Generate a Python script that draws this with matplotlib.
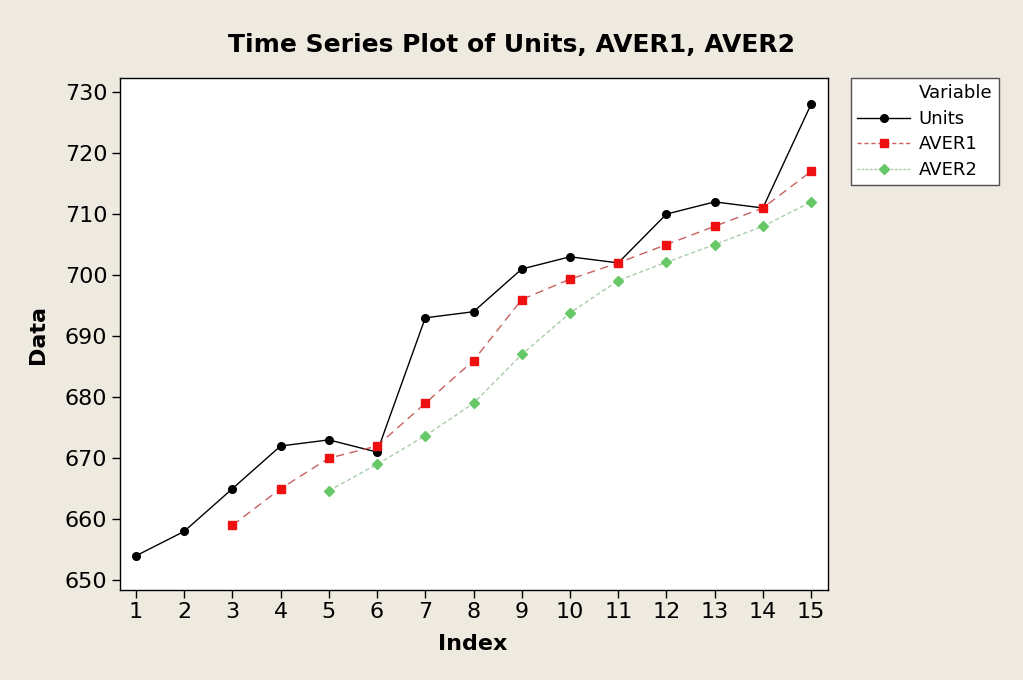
import numpy as np
import matplotlib.pyplot as plt
from matplotlib.lines import Line2D

index = np.arange(1, 16)
units = [654, 658, 665, 672, 673, 671, 693, 694, 701, 703, 702, 710, 712, 711, 728]
aver1 = [np.nan, np.nan, 659, 665, 670, 672, 679, 686, 696, 699.33, 702, 705, 708, 711, 717]
aver2 = [np.nan, np.nan, np.nan, np.nan, 664.67, 669, 673.67, 679, 687, 693.78,
         699.11, 702.11, 705, 708, 712]

bg = '#EEEAE0'
plt.rcParams['font.family'] = ['DejaVu Sans']

fig = plt.figure(figsize=(10.23, 6.8), dpi=100, facecolor=bg)
ax = fig.add_axes([120 / 1023, 1 - 590 / 680, 707.5 / 1023, 512 / 680])
ax.set_facecolor('white')

ax.plot(index, units, color='black', lw=1, marker='o', ms=5.5, label='Units')
ax.plot(index, aver1, color='#C86060', lw=1, ls=(0, (6, 4)), marker='s', ms=6,
        mfc='#EE1010', mec='#EE1010', label='AVER1')
ax.plot(index, aver2, color='#A8CCA8', lw=1, ls=(0, (3, 2)), marker='D', ms=5,
        mfc='#66C866', mec='#66C866', label='AVER2')

ax.set_xlim(0.67, 15.34)
ax.set_ylim(648.4, 732.3)
ax.set_xticks(index)
ax.set_yticks(np.arange(650, 731, 10))
ax.tick_params(direction='out', length=6, width=1, labelsize=16, pad=3)
for s in ax.spines.values():
    s.set_linewidth(1)

fig.text(512 / 1023, 1 - 45 / 680, 'Time Series Plot of Units, AVER1, AVER2',
         ha='center', va='center', fontsize=18, fontweight='bold')
fig.text(473 / 1023, 1 - 644 / 680, 'Index', ha='center', va='center',
         fontsize=16, fontweight='bold')
fig.text(38 / 1023, 1 - 335 / 680, 'Data', ha='center', va='center',
         fontsize=16, fontweight='bold', rotation=90)

handles = [Line2D([], [], color='none', label='Variable'),
           Line2D([], [], color='black', lw=1, marker='o', ms=5.5),
           Line2D([], [], color='#C86060', lw=1, ls=(0, (3, 2)), marker='s', ms=6,
                  mfc='#EE1010', mec='#EE1010'),
           Line2D([], [], color='#A8CCA8', lw=1, ls=(0, (2, 1)), marker='D', ms=5,
                  mfc='#66C866', mec='#66C866')]
leg = fig.legend(handles, ['Variable', 'Units', 'AVER1', 'AVER2'],
                 loc='upper left', bbox_to_anchor=(851 / 1023, 1 - 78 / 680),
                 frameon=True, fancybox=False, fontsize=13, handlelength=2.9,
                 borderpad=0.35, labelspacing=0.42, handletextpad=0.5,
                 borderaxespad=0, framealpha=1)
leg.get_frame().set_edgecolor('#505050')
leg.get_frame().set_facecolor('white')
leg.get_frame().set_linewidth(1)

fig.savefig('out.png', dpi=100, facecolor=bg)
